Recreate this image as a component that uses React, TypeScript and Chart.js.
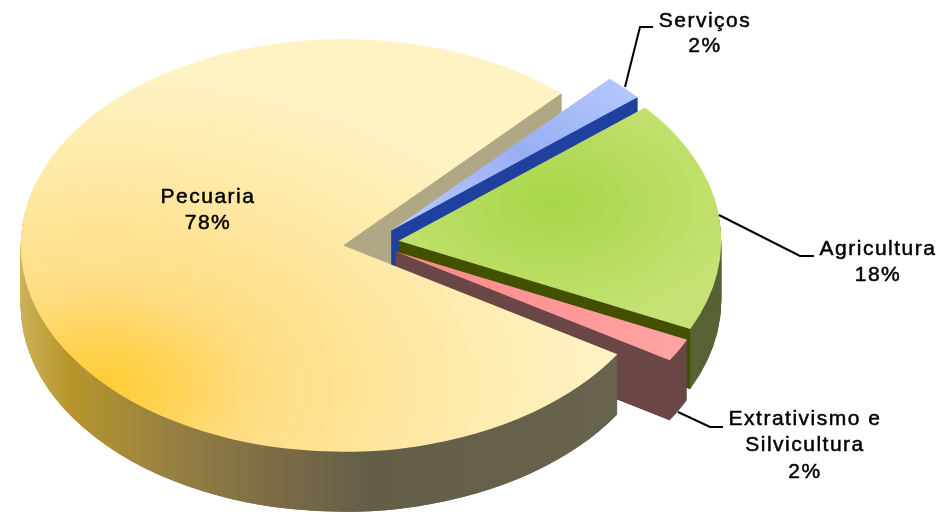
import React, { useEffect, useRef } from "react";
import { Chart, registerables } from "chart.js";

Chart.register(...registerables);

const categories = ["Serviços", "Agricultura", "Extrativismo e Silvicultura", "Pecuaria"];
const shares = [2.0, 18.2, 1.8, 78.0];

const FONT = "'Liberation Sans', Arial, sans-serif";
const KY = 0.64;
const DEPTH = 60;
const EXPLODE = 28;
const PECUARIA = 3;

type Stop = [number, string];
const grad = (g: CanvasGradient, stops: Stop[]) => {
  stops.forEach(([o, c]) => g.addColorStop(o, c));
  return g;
};

const labelSpecs = [
  { lines: ["Serviços", "2%"], x: 705, ys: [21, 46], leader: [[625, 87], [640, 27], [653, 27]] },
  { lines: ["Agricultura", "18%"], x: 878, ys: [249, 275], leader: [[719, 215], [800, 256], [814, 256]] },
  { lines: ["Extrativismo e", "Silvicultura", "2%"], x: 805, ys: [419, 445, 472], leader: [[678, 412], [710, 427], [723, 427]] },
  { lines: ["Pecuaria", "78%"], x: 208, ys: [197, 223], leader: [] as number[][] },
];

export default function App() {
  const ref = useRef<HTMLCanvasElement>(null);
  useEffect(() => {
    const canvas = ref.current!;
    const pie3d = {
      id: "pie3d",
      beforeDatasetDraw(chart: any) {
        const ctx: CanvasRenderingContext2D = chart.ctx;
        const arcs: any[] = chart.getDatasetMeta(0).data;
        const cx = arcs[0].x;
        const cy = arcs[0].y;
        const R = arcs[0].outerRadius;
        const sy = (y: number) => cy + (y - cy) / KY; // screen y -> unsquashed y

        const topFills: (CanvasGradient | string)[] = [
          grad(ctx.createRadialGradient(505, sy(165), 0, 505, sy(165), 160), [[0, "#98aef2"], [1, "#b6c9fe"]]),
          grad(ctx.createRadialGradient(525, sy(205), 0, 525, sy(205), 200), [[0, "#a8d648"], [1, "#c6e274"]]),
          grad(ctx.createLinearGradient(400, 0, 680, 0), [[0, "#ff8a8a"], [1, "#ffa6a6"]]),
          grad(ctx.createRadialGradient(130, sy(385), 0, 130, sy(385), 500), [
            [0, "#ffcc33"], [0.12, "#ffd24f"], [0.3, "#ffdc80"], [0.6, "#fee7a0"], [1, "#fff3c4"],
          ]),
        ];
        const wallFills: (CanvasGradient | string)[] = [
          "#20409f",
          "#566336",
          "#6b4646",
          grad(ctx.createLinearGradient(20, 0, 617, 0), [
            [0, "#d8c070"], [0.13, "#b8962c"], [0.3, "#968042"], [0.47, "#7c6c45"],
            [0.63, "#645e48"], [1, "#67634d"],
          ]),
        ];
        const cutFills = ["#20409f", "#435000", "#6b4646", "#b0a884"];

        const place = (el: any, dy: number) => {
          const mid = (el.startAngle + el.endAngle) / 2;
          ctx.translate(0, dy);
          ctx.translate(cx, cy);
          ctx.scale(1, KY);
          ctx.translate(-cx, -cy);
          ctx.translate(Math.cos(mid) * EXPLODE, Math.sin(mid) * EXPLODE);
        };
        const paint = (el: any, fill: CanvasGradient | string, dy: number) => {
          const saved = el.options;
          el.options = { ...saved, backgroundColor: fill, borderWidth: 0 };
          ctx.save();
          place(el, dy);
          el.draw(ctx);
          ctx.restore();
          el.options = saved;
        };
        const extrude = (i: number) => {
          for (let d = DEPTH; d >= 1; d--) paint(arcs[i], wallFills[i], d);
        };
        // flat faces cut along the straight edges of a slice
        const cutFace = (i: number, angle: number) => {
          const el = arcs[i];
          ctx.save();
          place(el, 0);
          const ex = cx + Math.cos(angle) * R;
          const ey = cy + Math.sin(angle) * R;
          const off = DEPTH / KY;
          ctx.beginPath();
          ctx.moveTo(cx, cy);
          ctx.lineTo(ex, ey);
          ctx.lineTo(ex, ey + off);
          ctx.lineTo(cx, cy + off);
          ctx.closePath();
          ctx.fillStyle = cutFills[i];
          ctx.fill();
          ctx.restore();
        };

        // back part of the large slice, behind all the others
        extrude(PECUARIA);
        cutFace(PECUARIA, arcs[PECUARIA].endAngle);

        for (let i = 0; i < PECUARIA; i++) {
          extrude(i);
          cutFace(i, arcs[i].endAngle);
          paint(arcs[i], topFills[i], 0);
        }

        // front wall of the large slice, then its top
        ctx.save();
        ctx.beginPath();
        ctx.rect(0, cy + DEPTH, chart.width, chart.height);
        ctx.clip();
        extrude(PECUARIA);
        ctx.restore();
        paint(arcs[PECUARIA], topFills[PECUARIA], 0);
        return false;
      },
      afterDraw(chart: any) {
        const ctx: CanvasRenderingContext2D = chart.ctx;
        ctx.save();
        ctx.strokeStyle = "#000";
        ctx.lineWidth = 2;
        labelSpecs.forEach((s) => {
          if (s.leader.length) {
            ctx.beginPath();
            s.leader.forEach(([x, y], k) => (k ? ctx.lineTo(x, y) : ctx.moveTo(x, y)));
            ctx.stroke();
          }
        });
        ctx.fillStyle = "#000";
        ctx.strokeStyle = "#000";
        ctx.lineWidth = 0.5;
        ctx.font = `21px ${FONT}`;
        (ctx as any).letterSpacing = "1.5px";
        ctx.textAlign = "center";
        ctx.textBaseline = "middle";
        labelSpecs.forEach((s) => {
          s.lines.forEach((t, k) => {
            ctx.fillText(t, s.x, s.ys[k]);
            ctx.strokeText(t, s.x, s.ys[k]);
          });
        });
        ctx.restore();
      },
    };

    const chart = new Chart(canvas, {
      type: "pie",
      data: {
        labels: categories,
        datasets: [{ data: shares, backgroundColor: ["#b6c9fe", "#c6e274", "#ffa6a6", "#fff3c4"], borderWidth: 0, clip: false } as any],
      },
      options: {
        animation: false,
        responsive: false,
        rotation: 42.6,
        radius: 322.5,
        layout: { padding: { right: 203, bottom: 27 } },
        plugins: { legend: { display: false }, tooltip: { enabled: false } },
      } as any,
      plugins: [pie3d],
    });
    return () => chart.destroy();
  }, []);

  return (
    <canvas
      ref={ref}
      width={945}
      height={513}
      style={{ position: "fixed", left: 0, top: 0, display: "block", width: 945, height: 513, background: "#fff" }}
    />
  );
}
